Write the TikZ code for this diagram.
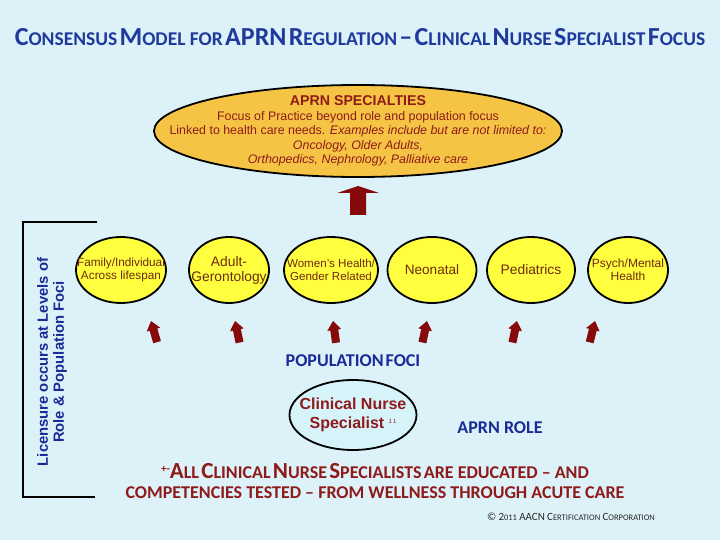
\documentclass[tikz,border=0pt]{standalone}
\usepackage{fontspec}
\setmainfont{Liberation Sans}
\newfontfamily\calib{Carlito}
\usetikzlibrary{positioning,shapes.geometric}
\definecolor{bgcol}{HTML}{DCF2F8}
\definecolor{titleblue}{HTML}{1F3A9C}
\definecolor{navycol}{HTML}{1A2A96}
\definecolor{goldcol}{HTML}{F6C444}
\definecolor{yellowcol}{HTML}{FFFF40}
\definecolor{arrowcol}{HTML}{860A0A}
\definecolor{maroon}{HTML}{8E1A1A}
\definecolor{browncol}{HTML}{6E2A0C}
\definecolor{rolefill}{HTML}{D6F3FA}

% fake small caps: big first letter, smaller rest
\newcommand{\titlesc}[2]{{\fontsize{26}{26}\selectfont#1}{\fontsize{19.5}{19.5}\selectfont#2}}
\newcommand{\notesc}[2]{{\fontsize{23}{23}\selectfont#1}{\fontsize{18}{18}\selectfont#2}}
\newcommand{\copysc}[2]{{\fontsize{11}{11}\selectfont#1}{\fontsize{8.5}{8.5}\selectfont#2}}

\tikzset{
  smallarrow/.pic={\fill[arrowcol] (0,0) -- (7,9) -- (4,9) -- (4,22) -- (-4,22) -- (-4,9) -- (-7,9) -- cycle;},
  bigarrow/.pic={\fill[arrowcol] (0,0) -- (21,7) -- (8,7) -- (8,29) -- (-8,29) -- (-8,7) -- (-21,7) -- cycle;}
}

\begin{document}
\begin{tikzpicture}[x=1pt, y=-1pt,
  popell/.style={ellipse, draw=black, line width=1.8pt, fill=yellowcol, minimum height=66pt, inner sep=0pt},
  poptext/.style={text=browncol, align=center, font=\fontsize{11.6}{13}\selectfont},
  bluelabel/.style={text=navycol, font=\calib\bfseries\fontsize{18}{20}\selectfont}]

\fill[bgcol] (0,0) rectangle (720,540);
\useasboundingbox (0,0) rectangle (720,540);

% === TITLE ===
\node[font=\calib\bfseries, text=titleblue] (title) at (360,37)
  {\titlesc{C}{ONSENSUS} \titlesc{M}{ODEL FOR} {\fontsize{26}{26}\selectfont APRN} \titlesc{R}{EGULATION} {\fontsize{26}{26}\selectfont\textendash} \titlesc{C}{LINICAL} \titlesc{N}{URSE} \titlesc{S}{PECIALIST} \titlesc{F}{OCUS}};

% === SPECIALTIES ===
\node[ellipse, draw=black, line width=1.8pt, fill=goldcol, minimum width=408pt, minimum height=92pt, inner sep=0pt] (spec) at (358,131) {};
\node[text=maroon, align=center, font=\fontsize{12.4}{14.6}\selectfont] (spectext) at (spec.center)
  {{\bfseries\fontsize{14.2}{14.6}\selectfont APRN SPECIALTIES}\\
   Focus of Practice beyond role and population focus\\
   Linked to health care needs. \textit{Examples include but are not limited to:}\\
   \textit{Oncology, Older Adults,}\\
   \textit{Orthopedics, Nephrology, Palliative care}};
\pic at (358,186) {bigarrow};

% === POPULATION FOCI ===
\node[popell, minimum width=90pt, label={[poptext, font=\fontsize{11.8}{13}\selectfont]center:{Family/Individual\\Across lifespan}}] (family) at (121,270) {};
\node[popell, minimum width=80pt, label={[poptext, font=\fontsize{13.8}{15}\selectfont]center:{Adult-\\Gerontology}}] (adult) at (229,270) {};
\node[popell, minimum width=94pt, label={[poptext]center:{Women's Health/\\Gender Related}}] (women) at (331,270) {};
\node[popell, minimum width=89pt, label={[poptext, font=\fontsize{13.6}{15}\selectfont]center:Neonatal}] (neonatal) at (432,270) {};
\node[popell, minimum width=88pt, label={[poptext, font=\fontsize{13.8}{15}\selectfont]center:Pediatrics}] (pediatrics) at (531,270) {};
\node[popell, minimum width=80pt, label={[poptext, font=\fontsize{12}{13}\selectfont]center:{Psych/Mental\\Health}}] (psych) at (628,270) {};

\pic[rotate=16] at (151,321) {smallarrow};
\pic[rotate=12] at (235,321) {smallarrow};
\pic[rotate=8] at (333,321) {smallarrow};
\pic[rotate=-12] at (427,321) {smallarrow};
\pic[rotate=-12] at (517,321) {smallarrow};
\pic[rotate=-14] at (595,321) {smallarrow};

\node[bluelabel] (popfoci) at (353,361) {POPULATION\hspace{2pt}FOCI};

% === ROLE ===
\node[ellipse, draw=black, line width=1.8pt, fill=rolefill, minimum width=127pt, minimum height=70pt, inner sep=0pt] (cns) at (353,415) {};
\node[text=maroon, align=center, font=\bfseries\fontsize{16}{19}\selectfont] (cnstext) at (cns.center)
  {Clinical Nurse\\Specialist {\mdseries\fontsize{6}{6}\selectfont\raisebox{5pt}{1\,1}}};
\node[bluelabel] (role) at (500,428) {APRN ROLE};

% === LICENSURE BRACKET ===
\draw[line width=1.5pt] (97,222) -- (23,222) -- (23,497) -- (95,497);
\node[rotate=90, align=center, text=navycol, font=\bfseries\fontsize{14.8}{16}\selectfont] (licence) at (52,362)
  {Licensure occurs at Levels of\\Role \& Population Foci};

% === NOTE ===
\node[font=\calib\bfseries, text=maroon] (notea) at (375,471)
  {{\fontsize{11}{11}\selectfont\raisebox{6pt}{+-}}\notesc{A}{LL} \notesc{C}{LINICAL} \notesc{N}{URSE} \notesc{S}{PECIALISTS} {\fontsize{18}{18}\selectfont ARE EDUCATED \textendash{} AND}};
\node[font=\calib\bfseries\fontsize{18}{18}\selectfont, text=maroon] (noteb) at (375,493)
  {COMPETENCIES TESTED \textendash{} FROM WELLNESS THROUGH ACUTE CARE};

\node[font=\calib, text=black!85] (copy) at (571,517)
  {\copysc{\textcopyright}{} \copysc{2}{011} \copysc{AACN}{} \copysc{C}{ERTIFICATION} \copysc{C}{ORPORATION}};

\end{tikzpicture}
\end{document}
